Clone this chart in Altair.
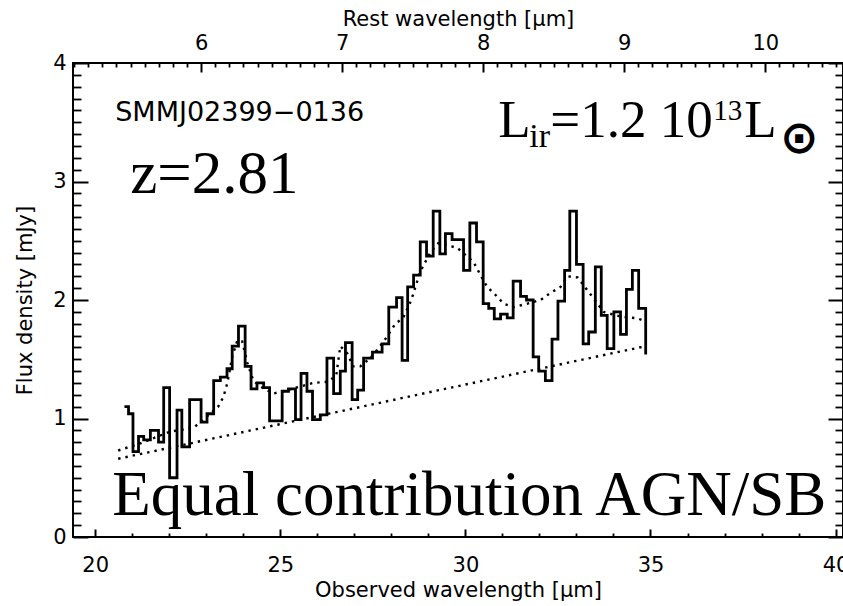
import altair as alt
import pandas as pd

SANS = "DejaVu Sans"
SERIF = "Liberation Serif"

Z = 2.81
x_domain = [19.4, 40.2]
y_domain = [0.0, 4.0]
rest_domain = [x_domain[0] / (1 + Z), x_domain[1] / (1 + Z)]

# observed spectrum: left edge of each bin [um] and flux density [mJy]
spec_x = [20.79, 20.90, 21.02, 21.17, 21.31, 21.49, 21.71, 21.85, 22.01, 22.21,
          22.34, 22.55, 22.70, 22.86, 23.02, 23.20, 23.38, 23.56, 23.70, 23.87,
          24.05, 24.21, 24.37, 24.55, 24.71, 24.88, 25.05, 25.22, 25.41, 25.56,
          25.72, 25.87, 26.08, 26.26, 26.44, 26.62, 26.76, 26.94, 27.09, 27.25,
          27.49, 27.75, 27.93, 28.14, 28.29, 28.44, 28.60, 28.78, 28.95, 29.13,
          29.31, 29.46, 29.64, 29.80, 29.95, 30.12, 30.30, 30.48, 30.63, 30.78,
          30.95, 31.13, 31.29, 31.49, 31.65, 31.83, 31.98, 32.16, 32.34, 32.50,
          32.68, 32.82, 33.00, 33.18, 33.33, 33.51, 33.67, 33.83, 34.01, 34.19,
          34.35, 34.51, 34.68]
spec_y = [1.10, 1.04, 0.72, 0.85, 0.82, 0.90, 0.80, 1.26, 0.50, 1.07,
          0.76, 1.16, 1.16, 0.97, 1.04, 1.32, 1.35, 1.42, 1.61, 1.78,
          1.44, 1.25, 1.30, 1.26, 0.98, 0.98, 1.23, 1.25, 0.99, 1.38,
          1.23, 0.99, 1.03, 1.51, 1.21, 1.40, 1.64, 1.16, 1.24, 1.51,
          1.56, 1.63, 1.94, 2.02, 1.49, 2.11, 2.21, 2.49, 2.37, 2.75,
          2.39, 2.56, 2.51, 2.51, 2.25, 2.65, 2.49, 1.97, 1.93, 1.84,
          1.88, 1.85, 2.16, 2.03, 2.00, 1.52, 1.40, 1.32, 1.67, 1.99,
          2.25, 2.75, 2.30, 1.63, 1.73, 2.28, 1.87, 1.59, 1.90, 1.71,
          2.09, 2.25, 1.93]
spec_end_x = 34.87
spec_end_y = 1.54

# model fit (dotted)
model_x = [20.62, 21.22, 22.03, 22.65, 23.03, 23.32, 23.46, 23.57, 23.70, 23.84,
           23.97, 24.11, 24.27, 24.46, 24.81, 25.19, 25.54, 25.89, 26.27, 26.51,
           26.62, 26.81, 26.97, 27.16, 27.43, 27.62, 27.86, 28.11, 28.32, 28.54,
           28.78, 29.05, 29.27, 29.78, 30.22, 30.46, 30.59, 30.76, 31.03, 31.30,
           31.68, 32.03, 32.30, 32.57, 32.76, 33.03, 33.30, 33.57, 33.73, 34.19,
           34.65, 34.86]
model_y = [0.73, 0.79, 0.89, 0.92, 1.02, 1.10, 1.18, 1.30, 1.52, 1.66,
           1.65, 1.47, 1.32, 1.27, 1.21, 1.24, 1.27, 1.30, 1.31, 1.36,
           1.61, 1.55, 1.44, 1.44, 1.51, 1.58, 1.68, 1.80, 1.85, 2.00,
           2.24, 2.40, 2.48, 2.44, 2.32, 2.18, 2.11, 2.06, 1.97, 1.94,
           1.97, 2.00, 2.06, 2.11, 2.20, 2.19, 2.08, 1.97, 1.90, 1.86,
           1.845, 1.82]

# continuum (dotted)
cont_x = [20.62, 29.0, 34.86]
cont_y = [0.66, 1.22, 1.61]

obs_ticks = [20, 25, 30, 35, 40]
obs_minor = [v for v in range(20, 41) if v % 5 != 0]
rest_ticks = [6, 7, 8, 9, 10]
rest_minor = [round(v / 10, 1) for v in range(51, 106) if v % 10 != 0]
flux_ticks = [0, 1, 2, 3, 4]
flux_minor = [round(v / 10, 1) for v in range(0, 41) if v % 10 != 0]

W, H = 770, 474
AX_FS = 21


def xs():
    return alt.Scale(domain=x_domain, nice=False, zero=False)


def ys():
    return alt.Scale(domain=y_domain, nice=False, zero=False)


def rs():
    return alt.Scale(domain=rest_domain, nice=False, zero=False)


spec_df = pd.DataFrame({"x": spec_x + [spec_end_x], "y": spec_y + [spec_end_y]})
model_df = pd.DataFrame({"x": model_x, "y": model_y})
cont_df = pd.DataFrame({"x": cont_x, "y": cont_y})

spectrum = alt.Chart(spec_df).mark_line(
    interpolate="step-after", color="black", strokeWidth=2.8, strokeJoin="miter"
).encode(
    x=alt.X("x:Q", scale=xs(), axis=None),
    y=alt.Y("y:Q", scale=ys(), axis=None),
)

model = alt.Chart(model_df).mark_line(
    color="black", strokeWidth=2.4, strokeDash=[2.4, 5]
).encode(
    x=alt.X("x:Q", scale=xs(), axis=None),
    y=alt.Y("y:Q", scale=ys(), axis=None),
)

cont = alt.Chart(cont_df).mark_line(
    color="black", strokeWidth=2.4, strokeDash=[2.4, 5]
).encode(
    x=alt.X("x:Q", scale=xs(), axis=None),
    y=alt.Y("y:Q", scale=ys(), axis=None),
)


def label(txt, x, y, font, size, dx=0, dy=0, align="left", weight="normal"):
    df = pd.DataFrame({"x": [x], "y": [y], "t": [txt]})
    return alt.Chart(df).mark_text(
        font=font, fontSize=size, color="black", align=align,
        baseline="alphabetic", dx=dx, dy=dy, fontWeight=weight
    ).encode(
        x=alt.X("x:Q", scale=xs(), axis=None),
        y=alt.Y("y:Q", scale=ys(), axis=None),
        text="t:N",
    )


lx, ly = 30.89, 3.373
texts = [
    label("SMMJ02399\u22120136", 20.54, 3.513, SANS, 27),
    label("z=2.81", 20.946, 2.903, SERIF, 61),
    label("Equal contribution AGN/SB", 20.46, 0.186, SERIF, 63),
    label("L", lx, ly, SERIF, 53),
    label("ir", lx, ly, SERIF, 34, dx=31, dy=10),
    label("=1.2 10", lx, ly, SERIF, 53, dx=52),
    label("13", lx, ly, SERIF, 29, dx=215, dy=-17),
    label("L", lx, ly, SERIF, 53, dx=246),
    label("\u2299", lx, ly, SANS, 46, dx=301, dy=16, align="center", weight="bold"),
]

data_layer = alt.layer(spectrum, model, cont, *texts)

common_lab = dict(domain=False, grid=False, labelFont=SANS, labelFontSize=AX_FS,
                  labelColor="black", labelFlush=False, labelOverlap=False,
                  titleFont=SANS, titleFontSize=AX_FS, titleFontWeight="normal",
                  titleColor="black", ticks=False, tickSize=0)
common_tick = dict(domain=False, grid=False, labels=False, ticks=True,
                   tickColor="black", title=None)


def dummy(xfield, xval, xscale, xaxis, yaxis):
    df = pd.DataFrame({xfield: [xval], "y": [2.0]})
    if yaxis is None:
        yenc = alt.Y("y:Q", scale=ys(), axis=None)
    else:
        yenc = alt.Y("y:Q", scale=ys(), axis=yaxis)
    return alt.Chart(df).mark_point(opacity=0).encode(
        x=alt.X(f"{xfield}:Q", scale=xscale, axis=xaxis),
        y=yenc,
    )


ax1 = dummy(
    "x", 30.0, xs(),
    alt.Axis(orient="bottom", values=obs_ticks, labelPadding=17,
             title="Observed wavelength [\u03bcm]", titlePadding=4, **common_lab),
    alt.Axis(orient="left", values=flux_ticks, labelPadding=7,
             title="Flux density [mJy]", titlePadding=17, **common_lab),
)
ax2 = dummy(
    "x", 30.0, xs(),
    alt.Axis(orient="bottom", values=obs_ticks, tickSize=8, tickWidth=2,
             offset=-8, **common_tick),
    alt.Axis(orient="left", values=flux_ticks, tickSize=15, tickWidth=2,
             offset=-15, **common_tick),
)
ax3 = dummy(
    "x", 30.0, xs(),
    alt.Axis(orient="bottom", values=obs_minor, tickSize=4, tickWidth=1.8,
             offset=-4, **common_tick),
    alt.Axis(orient="left", values=flux_minor, tickSize=8, tickWidth=1.8,
             offset=-8, **common_tick),
)
ax4 = dummy(
    "r", 8.0, rs(),
    alt.Axis(orient="top", values=rest_ticks, labelPadding=10,
             title="Rest wavelength [\u03bcm]", titlePadding=3, **common_lab),
    alt.Axis(orient="right", values=flux_ticks, tickSize=15, tickWidth=2,
             offset=-15, **common_tick),
)
ax5 = dummy(
    "r", 8.0, rs(),
    alt.Axis(orient="top", values=rest_ticks, tickSize=9, tickWidth=2,
             offset=-9, **common_tick),
    alt.Axis(orient="right", values=flux_minor, tickSize=8, tickWidth=1.8,
             offset=-8, **common_tick),
)
ax6 = dummy(
    "r", 8.0, rs(),
    alt.Axis(orient="top", values=rest_minor, tickSize=4, tickWidth=1.8,
             offset=-4, **common_tick),
    None,
)

chart = alt.layer(data_layer, ax1, ax2, ax3, ax4, ax5, ax6).resolve_scale(
    x="independent", y="independent"
).properties(
    width=W, height=H,
    autosize=alt.AutoSizeParams(type="none"),
    padding={"left": 73, "top": 63, "right": 0, "bottom": 69},
    background="white",
).configure_view(stroke="black", strokeWidth=2)

chart.save("out.html", embed_options={"renderer": "svg", "actions": False})
